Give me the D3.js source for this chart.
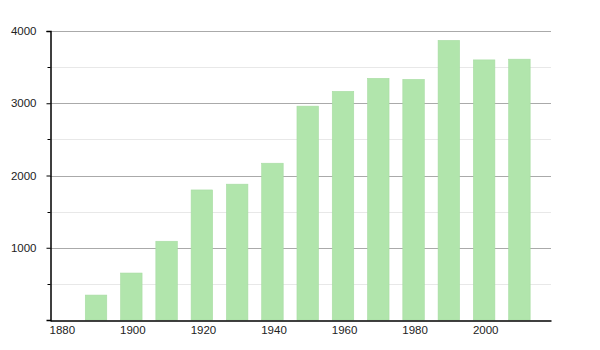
<!DOCTYPE html>
<html lang="en">
<head>
<meta charset="utf-8">
<title>Bar chart</title>
<script src="https://d3js.org/d3.v7.min.js"></script>
<style>
  body { margin: 0; background: #fff; }
  text { font-family: "Liberation Sans", Arial, sans-serif; font-size: 11px; fill: #222; }
</style>
</head>
<body>
<script>
  // data
  var years = [1890, 1900, 1910, 1920, 1930, 1940, 1950, 1960, 1970, 1980, 1990, 2000, 2010];
  var values = [345, 650, 1090, 1800, 1880, 2170, 2960, 3165, 3345, 3330, 3870, 3600, 3610];
  var xTicks = [1880, 1900, 1920, 1940, 1960, 1980, 2000];
  var yTicks = [1000, 2000, 3000, 4000];
  var yMinor = [500, 1500, 2500, 3500];

  var width = 600, height = 350;
  var mLeft = 50, mRight = 551, mTop = 31, mBottom = 320;

  var x = d3.scaleLinear().domain([1880, 2022]).range([mLeft, mRight]);
  var y = d3.scaleLinear().domain([0, 4000]).range([mBottom, mTop]);
  var barW = 21.5;

  var svg = d3.select("body").append("svg")
      .attr("width", width)
      .attr("height", height);

  // minor grid
  svg.append("g").selectAll("line")
      .data(yMinor).enter().append("line")
      .attr("x1", mLeft).attr("x2", mRight)
      .attr("y1", function (d) { return Math.round(y(d)) + 0.5; })
      .attr("y2", function (d) { return Math.round(y(d)) + 0.5; })
      .attr("stroke", "#e8e8e8").attr("stroke-width", 1);

  // major grid
  svg.append("g").selectAll("line")
      .data(yTicks).enter().append("line")
      .attr("x1", mLeft).attr("x2", mRight)
      .attr("y1", function (d) { return Math.round(y(d)) + 0.5; })
      .attr("y2", function (d) { return Math.round(y(d)) + 0.5; })
      .attr("stroke", "#aaaaaa").attr("stroke-width", 1);

  // bars
  svg.append("g").selectAll("rect")
      .data(years).enter().append("rect")
      .attr("x", function (d) { return x(d); })
      .attr("y", function (d, i) { return y(values[i]); })
      .attr("width", barW)
      .attr("height", function (d, i) { return mBottom - y(values[i]); })
      .attr("fill", "#b1e5ac")
      .attr("stroke", "#a8dca3")
      .attr("stroke-width", 0.6);

  // y axis
  var yAxis = svg.append("g")
      .attr("transform", "translate(" + (mLeft + 0.5) + ",0)")
      .call(d3.axisLeft(y).tickValues(yTicks).tickSize(4).tickPadding(10).tickFormat(d3.format("d")));
  yAxis.select(".domain").attr("stroke", "#000").attr("stroke-width", 1.5);
  yAxis.selectAll(".tick line").attr("stroke", "#000");
  yAxis.selectAll("text").style("font-family", "Liberation Sans, Arial, sans-serif").style("font-size", "11.5px").attr("fill", "#111");

  yAxis.selectAll(".minor").data(yMinor).enter().append("line")
      .attr("class", "minor")
      .attr("x1", -3).attr("x2", 0)
      .attr("y1", function (d) { return Math.round(y(d)) + 0.5; })
      .attr("y2", function (d) { return Math.round(y(d)) + 0.5; })
      .attr("stroke", "#000");

  // x axis
  var xAxis = svg.append("g")
      .attr("transform", "translate(0," + (mBottom + 0.5) + ")")
      .call(d3.axisBottom(x).tickValues(xTicks).tickSize(0).tickPadding(5).tickFormat(d3.format("d")));
  xAxis.select(".domain").attr("stroke", "#000").attr("stroke-width", 1.5);
  xAxis.selectAll("text")
      .attr("text-anchor", "start")
      .attr("dx", -1)
      .style("font-family", "Liberation Sans, Arial, sans-serif").style("font-size", "11.5px")
      .attr("fill", "#111");
</script>
</body>
</html>
